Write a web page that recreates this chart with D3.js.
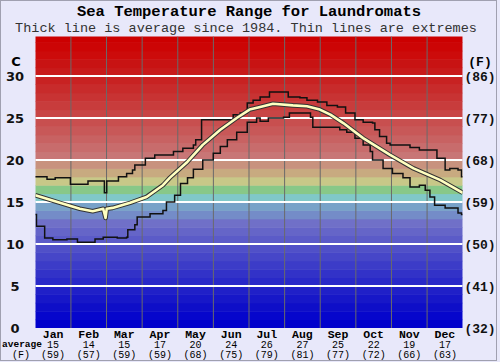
<!DOCTYPE html>
<html>
<head>
<meta charset="utf-8">
<script src="https://cdn.jsdelivr.net/npm/d3@7"></script>
<style>
  html, body { margin: 0; padding: 0; background: #e8e8fa; }
  svg { display: block; }
</style>
</head>
<body>
<div id="chart"></div>
<script>
// months and monthly averages (C and F)
const months = ["Jan","Feb","Mar","Apr","May","Jun","Jul","Aug","Sep","Oct","Nov","Dec"];
const avgC = [15, 14, 15, 17, 20, 24, 26, 27, 25, 22, 19, 17];
const avgF = [59, 57, 59, 59, 68, 75, 79, 81, 77, 72, 66, 63];

// axis ticks
const cTicks = [0, 5, 10, 15, 20, 25, 30];
const fTicks = [32, 41, 50, 59, 68, 77, 86];

// [day of year, temp C]
const maxLine = [
  [0,18.0],[10,17.7],[17,17.9],[30,17.1],[45,17.5],[59,16.1],[61,17.5],[71,18.0],
  [78,18.4],[83,18.8],[85,19.4],[94,20.2],[102,20.6],[118,21.0],[126,21.4],[135,21.8],
  [137,22.4],[142,24.8],[169,25.4],[175,25.6],[181,26.8],[186,27.1],[192,27.5],[200,28.1],
  [216,27.5],[226,27.4],[232,27.1],[241,26.9],[249,26.5],[258,26.3],[265,25.6],[273,24.8],
  [280,24.5],[288,24.4],[290,23.6],[294,22.8],[300,22.0],[303,21.8],[320,21.5],[328,21.2],
  [343,20.2],[350,18.8],[354,19.0],[361,18.8],[364,18.0],[365,18.0]
];
const minLine = [
  [0,13.5],[1,12.1],[8,10.7],[15,10.5],[27,10.6],[36,10.2],[51,10.6],[58,10.8],
  [70,10.7],[78,10.8],[79,11.7],[85,12.3],[87,13.2],[98,13.6],[109,14.0],[112,15.0],
  [119,15.8],[124,17.2],[130,17.9],[135,18.9],[143,20.0],[152,20.8],[158,21.6],[164,22.4],
  [172,23.3],[181,24.5],[189,25.0],[192,24.6],[199,25.0],[212,25.1],[217,25.6],[235,25.1],
  [237,23.9],[260,23.6],[266,23.3],[273,22.6],[280,21.8],[286,21.0],[288,20.0],[297,19.0],
  [305,18.4],[314,17.9],[320,16.8],[328,17.0],[333,16.4],[337,15.6],[341,14.6],[350,14.3],
  [361,13.7],[364,13.5],[365,13.5]
];
const avgLine = [
  [0,15.8],[7,15.5],[21,14.9],[38,14.2],[49,13.9],[58,14.2],[60,13.1],[61,14.2],
  [66,14.3],[81,14.9],[95,15.6],[109,17.0],[115,17.9],[130,19.8],[143,21.8],[158,23.6],
  [172,25.0],[183,26.0],[192,26.3],[203,26.7],[220,26.5],[232,26.4],[243,26.0],[252,25.4],
  [263,24.4],[280,22.6],[303,20.6],[323,19.0],[346,17.6],[365,16.1]
];

const W = 500, H = 362;
const plotL = 35.3, plotR = 462.7, plotT = 36.5, plotB = 328;

const svg = d3.select("#chart").append("svg")
  .attr("width", W).attr("height", H);

svg.append("rect").attr("x", 0.5).attr("y", 0.5)
  .attr("width", W - 4).attr("height", H - 2)
  .attr("fill", "#e8e8fa").attr("stroke", "#a0a0b0");

const x = d3.scaleLinear().domain([0, 365]).range([plotL, plotR]);
const y = d3.scaleLinear().domain([0, 35]).range([plotB, plotB - 35 * 8.4]);

svg.append("clipPath").attr("id", "plot")
  .append("rect").attr("x", plotL).attr("y", plotT)
  .attr("width", plotR - plotL).attr("height", plotB - plotT);

const plot = svg.append("g").attr("clip-path", "url(#plot)");

// colour bands, one per degree
function bandColor(i) {
  const special = {19: "#c8927e", 18: "#c8aa80", 17: "#c8c888", 16: "#88c888",
                   15: "#80c8c8", 14: "#78a2c8", 13: "#748cc8"};
  if (special[i]) return special[i];
  if (i >= 20) {
    const v = Math.round(Math.pow((34 - i) / 14, 1.2) * 118);
    return d3.rgb(i >= 32 ? 204 : 200, v, v).formatHex();
  }
  const v = Math.round(Math.pow(i / 12, 1.15) * 112);
  return d3.rgb(v, v, i <= 1 ? 204 : 200).formatHex();
}

plot.selectAll("rect.band")
  .data(d3.range(0, 35))
  .join("rect")
  .attr("class", "band")
  .attr("x", plotL).attr("width", plotR - plotL)
  .attr("y", d => y(d + 1)).attr("height", d => y(d) - y(d + 1) + 0.5)
  .attr("fill", d => bandColor(d));

// month separators
plot.selectAll("line.month")
  .data(d3.range(1, 12))
  .join("line")
  .attr("class", "month")
  .attr("x1", d => x(d * 365 / 12)).attr("x2", d => x(d * 365 / 12))
  .attr("y1", plotT).attr("y2", plotB)
  .attr("stroke", "#6a6a6a").attr("stroke-width", 1);

// horizontal grid
plot.selectAll("line.grid")
  .data(cTicks.filter(d => d > 0))
  .join("line")
  .attr("class", "grid")
  .attr("x1", plotL).attr("x2", plotR)
  .attr("y1", d => y(d)).attr("y2", d => y(d))
  .attr("stroke", "#fff").attr("stroke-width", 2);

const stepLine = d3.line().curve(d3.curveStepAfter)
  .x(d => x(d[0])).y(d => y(d[1]));
const smooth = d3.line().x(d => x(d[0])).y(d => y(d[1]));

[maxLine, minLine].forEach(data => {
  plot.append("path").datum(data)
    .attr("fill", "none").attr("stroke", "#111").attr("stroke-width", 1.5)
    .attr("d", stepLine);
});

plot.append("path").datum(avgLine)
  .attr("fill", "none").attr("stroke", "#333").attr("stroke-width", 4.6)
  .attr("stroke-linejoin", "round").attr("d", smooth);
plot.append("path").datum(avgLine)
  .attr("fill", "none").attr("stroke", "#ffffc0").attr("stroke-width", 2.6)
  .attr("stroke-linejoin", "round").attr("d", smooth);

// titles
svg.append("text").attr("x", 249).attr("y", 16)
  .attr("text-anchor", "middle")
  .style("font", "bold 15.5px 'Liberation Mono', monospace")
  .attr("fill", "#000")
  .text("Sea Temperature Range for Laundromats");
svg.append("text").attr("x", 246).attr("y", 31.5)
  .attr("text-anchor", "middle")
  .style("font", "13.5px 'Liberation Mono', monospace")
  .attr("fill", "#333")
  .text("Thick line is average since 1984. Thin lines are extremes");

// left axis (C)
const leftAxis = svg.append("g");
leftAxis.append("text").attr("x", 16).attr("y", 66)
  .attr("text-anchor", "middle")
  .style("font", "bold 13px 'DejaVu Sans', sans-serif").text("C");
leftAxis.selectAll("text.tick")
  .data(cTicks)
  .join("text")
  .attr("class", "tick")
  .attr("x", 15).attr("y", d => y(d) + 5)
  .attr("text-anchor", "middle")
  .style("font", "bold 13px 'DejaVu Sans', sans-serif")
  .attr("fill", "#111")
  .text(d => d);

// right axis (F)
const rightAxis = svg.append("g");
rightAxis.append("text").attr("x", 480).attr("y", 66)
  .attr("text-anchor", "middle")
  .style("font", "bold 13px 'Liberation Mono', monospace").text("(F)");
rightAxis.selectAll("text.tick")
  .data(fTicks)
  .join("text")
  .attr("class", "tick")
  .attr("x", 480).attr("y", d => y((d - 32) * 5 / 9) + 5)
  .attr("text-anchor", "middle")
  .style("font", "bold 13px 'Liberation Mono', monospace")
  .attr("fill", "#111")
  .text(d => "(" + d + ")");

// bottom month labels
const bottomG = svg.append("g");
const mx = i => x((i + 0.5) * 365 / 12);
bottomG.selectAll("text.mon").data(months).join("text")
  .attr("class", "mon")
  .attr("x", (d, i) => mx(i)).attr("y", 337.5)
  .attr("text-anchor", "middle")
  .style("font", "bold 11.5px 'Liberation Mono', monospace")
  .text(d => d);
bottomG.selectAll("text.avc").data(avgC).join("text")
  .attr("class", "avc")
  .attr("x", (d, i) => mx(i)).attr("y", 347.5)
  .attr("text-anchor", "middle")
  .style("font", "10px 'Liberation Mono', monospace")
  .text(d => d);
bottomG.selectAll("text.avf").data(avgF).join("text")
  .attr("class", "avf")
  .attr("x", (d, i) => mx(i)).attr("y", 357.5)
  .attr("text-anchor", "middle")
  .style("font", "10px 'Liberation Mono', monospace")
  .text(d => "(" + d + ")");
bottomG.append("text").attr("x", 22).attr("y", 347)
  .attr("text-anchor", "middle")
  .style("font", "bold 9.5px 'Liberation Mono', monospace").text("average");
bottomG.append("text").attr("x", 21).attr("y", 357.5)
  .attr("text-anchor", "middle")
  .style("font", "10px 'Liberation Mono', monospace").text("(F)");
</script>
</body>
</html>
